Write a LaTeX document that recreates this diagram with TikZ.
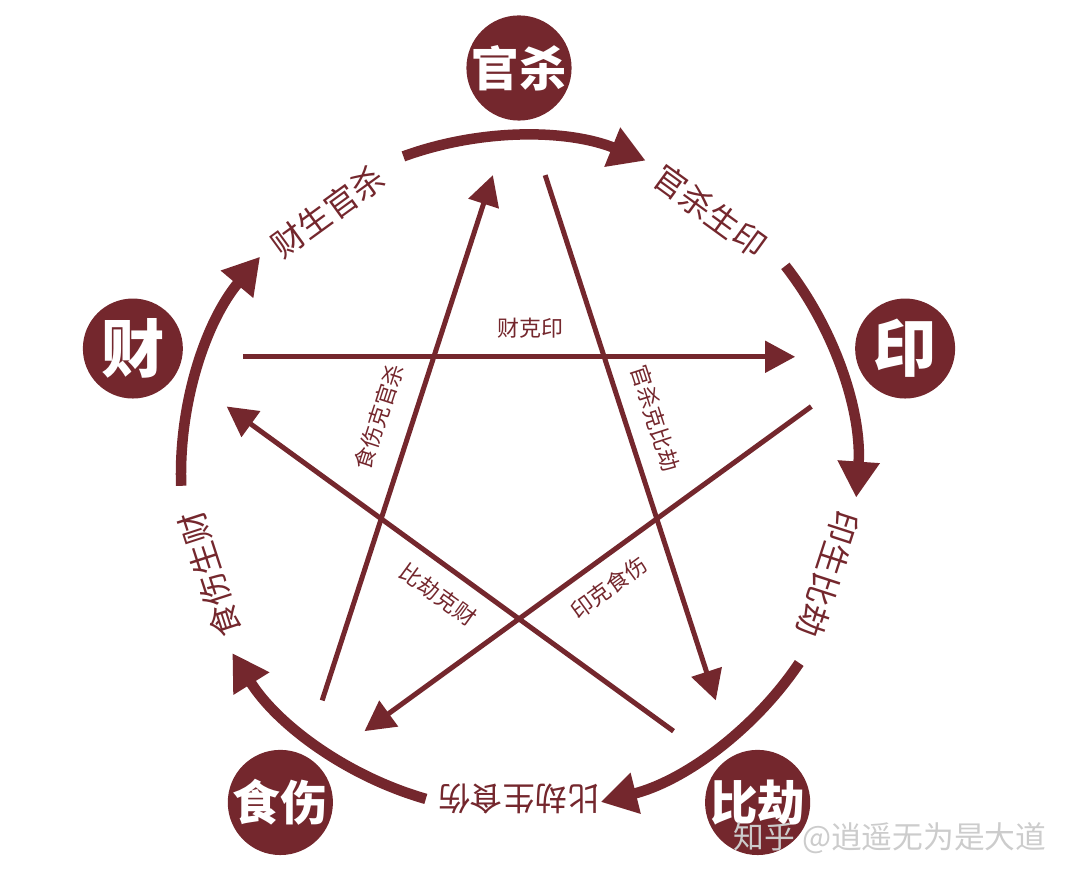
\documentclass[tikz,border=0pt]{standalone}
\usepackage{fontspec}
\setmainfont{Noto Sans CJK SC}
\usetikzlibrary{arrows.meta}
\definecolor{zhred}{RGB}{116,39,45}
\begin{document}
\begin{tikzpicture}[line join=round, >={Triangle[length=0.6cm,width=0.62cm]},
	elem/.style={circle, fill=zhred, minimum size=2cm, inner sep=0pt, text=white, font=\bfseries\fontsize{27}{27}\selectfont},
	big/.style={font=\bfseries\fontsize{36}{36}\selectfont},
	ring/.style={zhred, line width=0.21cm, ->, >={Triangle[length=0.72cm,width=0.8cm]}},
	ringtext/.style={text=zhred, inner sep=0pt, font=\fontsize{18.5}{18.5}\selectfont},
	star/.style={zhred, line width=0.1cm, ->},
	startext/.style={text=zhred, inner sep=0pt, sloped, font=\fontsize{12.5}{12.5}\selectfont}]
	\useasboundingbox (-10.38,-8.2) rectangle (11.22,9.48);
	\def\Rn{8.12}\def\Ra{6.76}\def\Rl{6.5}\def\Rs{6}
	\node[elem] (gs) at (90:\Rn) {官杀};
	\node[elem,big] (yin) at (18:\Rn) {印};
	\node[elem] (bj) at (-54:\Rn) {比劫};
	\node[elem] (ss) at (-126:\Rn) {食伤};
	\node[elem,big] (cai) at (162:\Rn) {财};
	\foreach \n/\a/\t in {gs/90/官杀生印, yin/18/印生比劫, bj/-54/比劫生食伤, ss/-126/食伤生财, cai/162/财生官杀}{
		\coordinate (\n-arc) at (\a+20:\Ra);
		\draw[ring] (\n-arc) arc[start angle=\a+20, end angle=\a-22, radius=\Ra];
		\node[ringtext, rotate=\a-126] (\n-lab) at (\a-36:\Rl) {\t};
		\coordinate (\n-out) at (\a-5:\Rs);
		\coordinate (\n-in) at (\a+5:\Rs);
	}
	\draw[star] (cai-out)--(yin-in) node[startext, pos=.52, above=0.32cm] (k1) {财克印};
	\draw[star] (ss-out)--(gs-in) node[startext, pos=.52, above=0.42cm] (k2) {食伤克官杀};
	\draw[star] (gs-out)--(bj-in) node[startext, pos=.48, above=0.34cm] (k3) {官杀克比劫};
	\draw[star] (yin-out)--(ss-in) node[startext, pos=.49, below=0.3cm] (k4) {印克食伤};
	\draw[star] (bj-out)--(cai-in) node[startext, pos=.49, below=0.3cm] (k5) {比劫克财};
	\node[text=gray!40, font=\fontsize{17.5}{17.5}\selectfont] (zhihu) at (7.42,-7.28) {知乎 @逍遥无为是大道};
\end{tikzpicture}
\end{document}
